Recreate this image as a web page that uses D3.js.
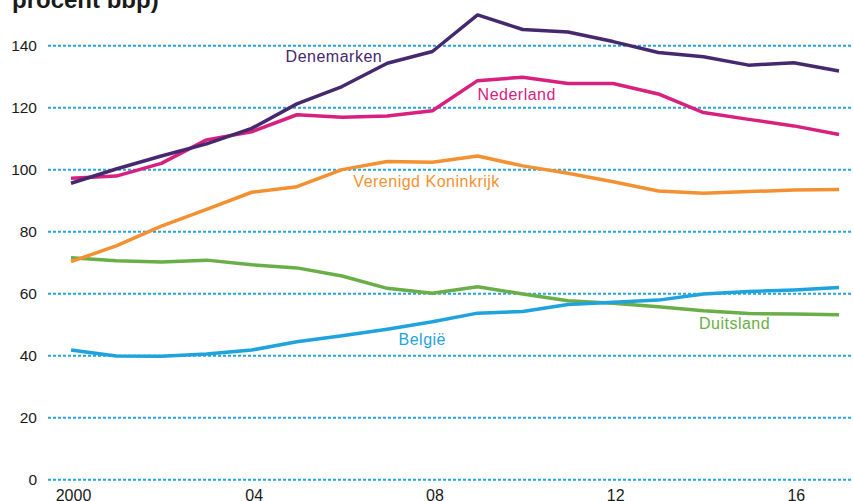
<!DOCTYPE html>
<html>
<head>
<meta charset="utf-8">
<script src="https://cdn.jsdelivr.net/npm/d3@7"></script>
<style>
  html, body { margin: 0; padding: 0; background: #fff; }
  svg { display: block; }
  text { font-family: "Liberation Sans", Arial, Helvetica, sans-serif; }
</style>
</head>
<body>
<svg id="chart" width="853" height="501"></svg>
<script>
// Schuld van huishoudens (procent bbp), 2000–2017
const years = d3.range(2000, 2018);
const denemarken = [95.5, 100.1, 104.3, 108.2, 113.2, 121.1, 126.7, 134.2, 138.0, 149.8, 145.1, 144.3, 141.2, 137.7, 136.3, 133.6, 134.4, 131.7];
const nederland  = [97.1, 97.8, 101.9, 109.5, 112.1, 117.6, 116.8, 117.2, 118.9, 128.6, 129.7, 127.7, 127.7, 124.3, 118.3, 116.1, 114.0, 111.2];
const verenigdKoninkrijk = [70.2, 75.3, 81.7, 87.1, 92.6, 94.4, 99.9, 102.5, 102.3, 104.3, 101.1, 98.7, 96.0, 93.0, 92.3, 92.8, 93.3, 93.5];
const duitsland  = [71.5, 70.5, 70.1, 70.7, 69.2, 68.2, 65.6, 61.6, 60.0, 62.1, 59.8, 57.6, 56.8, 55.7, 54.4, 53.5, 53.3, 53.1];
const belgie     = [41.7, 39.8, 39.7, 40.4, 41.7, 44.4, 46.3, 48.4, 50.8, 53.6, 54.1, 56.4, 57.1, 57.8, 59.8, 60.6, 61.1, 61.9];

const yTicks = [0, 20, 40, 60, 80, 100, 120, 140];
const xTickYears = [2000, 2004, 2008, 2012, 2016];
const xTickLabels = ["2000", "04", "08", "12", "16"];

const series = [
  { name: "Denemarken", values: denemarken, color: "#46286f", label: { year: 2004.75, value: 134.5 } },
  { name: "Nederland", values: nederland, color: "#d8207e", label: { year: 2009.0, value: 122.5 } },
  { name: "Verenigd Koninkrijk", values: verenigdKoninkrijk, color: "#f39132", label: { year: 2006.25, value: 94.4 } },
  { name: "België", values: belgie, color: "#1fa3dd", label: { year: 2007.25, value: 43.3 } },
  { name: "Duitsland", values: duitsland, color: "#6aae48", label: { year: 2013.9, value: 48.4 } }
];

const svg = d3.select("#chart");

const x = d3.scaleLinear().domain([2000, 2017]).range([71, 839]);
const y = d3.scaleLinear().domain([0, 140]).range([479.3, 45.3]);

// Title (partly above the top edge)
svg.append("text")
  .attr("x", 12).attr("y", 8)
  .attr("font-size", 24).attr("font-weight", "bold")
  .attr("fill", "#1a1a1a")
  .text("procent bbp)");

// Horizontal dotted gridlines with labels
const yAxis = d3.axisLeft(y)
  .tickValues(yTicks)
  .tickSize(-(853 - 48))
  .tickFormat(d3.format("d"));

const gy = svg.append("g")
  .attr("transform", "translate(48,0)")
  .call(yAxis);
gy.select(".domain").remove();
gy.selectAll(".tick line")
  .attr("stroke", "#25a5de")
  .attr("stroke-width", 2)
  .attr("stroke-dasharray", "3,2");
gy.selectAll(".tick text")
  .attr("x", -11)
  .attr("dy", "0.36em")
  .attr("font-size", 15.5)
  .attr("fill", "#1a1a1a")
  .attr("font-family", "Liberation Sans, Arial, sans-serif");

// Year axis (labels only)
const xAxis = d3.axisBottom(x)
  .tickValues(xTickYears)
  .tickSize(0)
  .tickFormat((d, i) => xTickLabels[i]);

const gx = svg.append("g")
  .attr("transform", "translate(2,489.5)")
  .call(xAxis);
gx.select(".domain").remove();
gx.selectAll(".tick text")
  .attr("y", 0)
  .attr("dy", "0.71em")
  .attr("font-size", 16)
  .attr("fill", "#1a1a1a")
  .attr("font-family", "Liberation Sans, Arial, sans-serif");

// Lines
const line = d3.line()
  .x((d, i) => x(years[i]))
  .y(d => y(d));

const gLines = svg.append("g");
// draw order: lower series first so top lines sit above
[...series].reverse().forEach(s => {
  gLines.append("path")
    .datum(s.values)
    .attr("fill", "none")
    .attr("stroke", s.color)
    .attr("stroke-width", 3.5)
    .attr("stroke-linejoin", "round")
    .attr("d", line);
});

// Series labels
svg.append("g").selectAll("text")
  .data(series)
  .join("text")
  .attr("x", d => x(d.label.year))
  .attr("y", d => y(d.label.value))
  .attr("font-size", 16)
  .attr("letter-spacing", 0.5)
  .attr("fill", d => d.color)
  .text(d => d.name);
</script>
</body>
</html>
